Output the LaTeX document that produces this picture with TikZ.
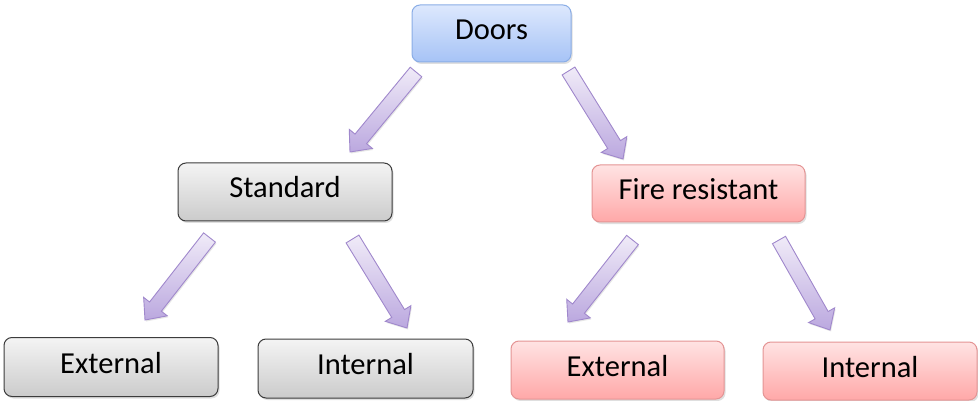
\documentclass[tikz,border=0pt]{standalone}
\usepackage{fontspec}
\setmainfont{Carlito}
\usetikzlibrary{calc,shadows}

\definecolor{blueTop}{HTML}{DDE8FD}
\definecolor{blueBot}{HTML}{A6C3F6}
\definecolor{blueLine}{HTML}{8AADE6}
\definecolor{grayTop}{HTML}{F4F4F4}
\definecolor{grayBot}{HTML}{CBCBCB}
\definecolor{grayLine}{HTML}{3C3C3C}
\definecolor{redTop}{HTML}{FFE3E3}
\definecolor{redBot}{HTML}{FFA8A8}
\definecolor{redLine}{HTML}{E49494}
\definecolor{arrTop}{HTML}{F0EBF8}
\definecolor{arrBot}{HTML}{BBA8DF}
\definecolor{arrLine}{HTML}{A088CC}

\tikzset{
  box/.style={rounded corners=8pt, line width=1pt, inner sep=0pt,
    font=\fontsize{30.5}{33}\selectfont, text height=21pt, text depth=9pt,
    drop shadow={shadow xshift=1.5pt, shadow yshift=-2pt, opacity=0.25}},
  bluebox/.style={box, draw=blueLine, top color=blueTop, bottom color=blueBot},
  graybox/.style={box, draw=grayLine, top color=grayTop, bottom color=grayBot},
  redbox/.style={box, draw=redLine, top color=redTop, bottom color=redBot},
  blockarr/.style={draw=arrLine, line width=0.9pt, line join=miter,
    top color=arrTop, bottom color=arrBot,
    drop shadow={shadow xshift=1pt, shadow yshift=-1.5pt, opacity=0.2}}
}

% block arrow from coordinate #1 (tail centre) to coordinate #2 (tip)
\newcommand\blockarrow[2]{%
  \coordinate (#1neck) at ($(#2)!17pt!(#1)$);
  \path[blockarr]
    ($(#1)!7.5pt!90:(#2)$) -- ($(#1neck)!7.5pt!90:(#2)$) --
    ($(#1neck)!15pt!90:(#2)$) -- (#2) --
    ($(#1neck)!15pt!-90:(#2)$) -- ($(#1neck)!7.5pt!-90:(#2)$) --
    ($(#1)!7.5pt!-90:(#2)$) -- cycle;
}

\begin{document}
\begin{tikzpicture}[x=1pt,y=-1pt]
\useasboundingbox (0,0) rectangle (978,401);

% boxes
\node[bluebox, minimum width=159pt, minimum height=57pt] (doors) at (491.5,33.5) {Doors};
\node[graybox, minimum width=214pt, minimum height=58pt] (std) at (285,192) {Standard};
\node[redbox, minimum width=213pt, minimum height=57pt] (fire) at (698.5,193.5) {Fire resistant};
\node[graybox, minimum width=214pt, minimum height=59pt] (extL) at (111,367) {External};
\node[graybox, minimum width=215pt, minimum height=59pt] (intL) at (365.5,368.5) {Internal};
\node[redbox, minimum width=213pt, minimum height=58pt] (extR) at (617.5,370) {External};
\node[redbox, minimum width=214pt, minimum height=58pt] (intR) at (870,371) {Internal};

% arrow tails and tips
\coordinate (a1) at (416,72);    \coordinate (a1tip) at (350,152);
\coordinate (a2) at (568.5,71);  \coordinate (a2tip) at (623,159);
\coordinate (a3) at (209.5,237.5); \coordinate (a3tip) at (145,320);
\coordinate (a4) at (352.5,239); \coordinate (a4tip) at (407,328);
\coordinate (a5) at (632.5,240); \coordinate (a5tip) at (568,322);
\coordinate (a6) at (779,240);   \coordinate (a6tip) at (830,330);

\blockarrow{a1}{a1tip}
\blockarrow{a2}{a2tip}
\blockarrow{a3}{a3tip}
\blockarrow{a4}{a4tip}
\blockarrow{a5}{a5tip}
\blockarrow{a6}{a6tip}
\end{tikzpicture}
\end{document}
